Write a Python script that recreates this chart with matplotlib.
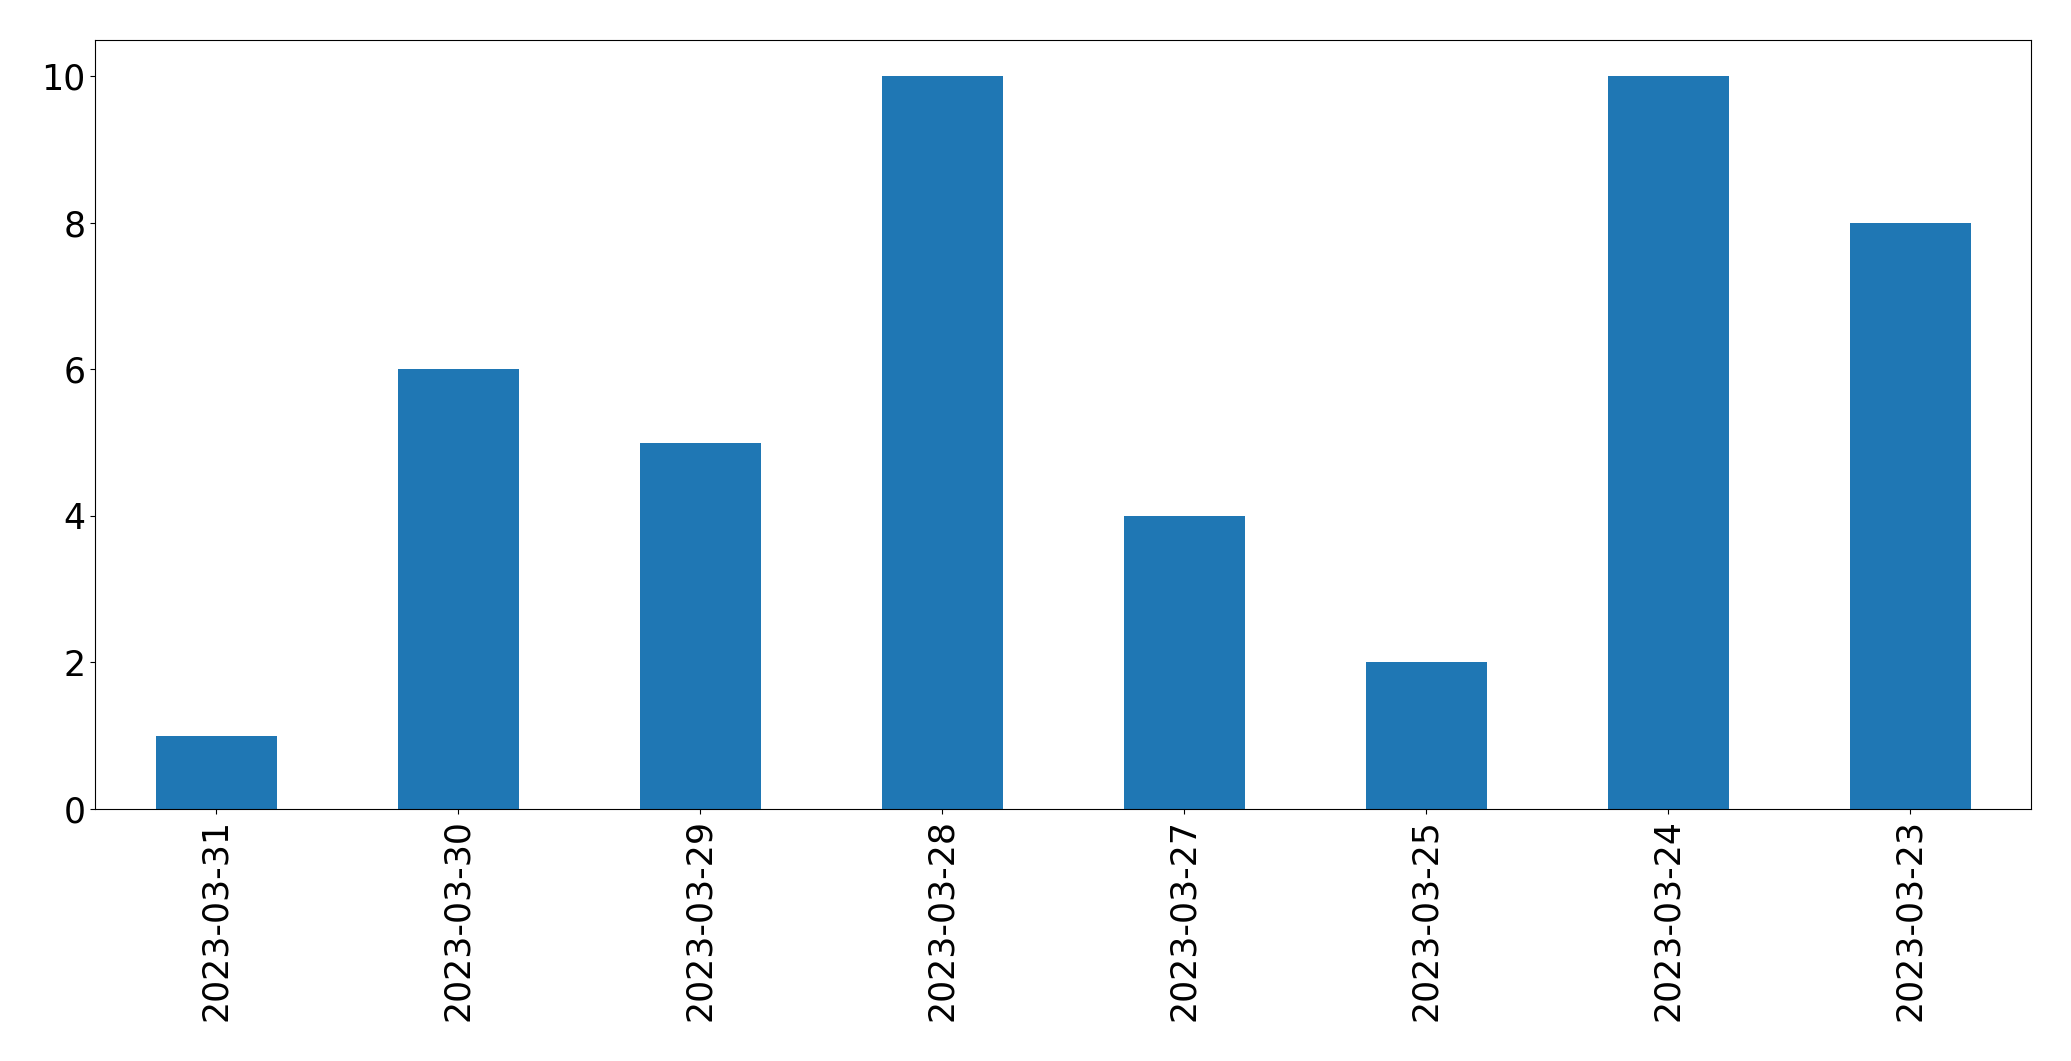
import matplotlib
matplotlib.use("Agg")
import matplotlib.pyplot as plt
import pandas as pd

dates = ["2023-03-31", "2023-03-30", "2023-03-29", "2023-03-28",
         "2023-03-27", "2023-03-25", "2023-03-24", "2023-03-23"]
counts = [1, 6, 5, 10, 4, 2, 10, 8]

s = pd.Series(counts, index=dates)

fig, ax = plt.subplots(figsize=(20.71, 10.61), dpi=100)
s.plot(kind="bar", ax=ax, color="#1f77b4", fontsize=25)
ax.tick_params(axis="both", labelsize=25)
# axes box placed to match the reference
fig.subplots_adjust(left=95/2071, right=2031/2071, top=1 - 39.5/1061, bottom=1 - 809/1061)
fig.savefig("out.png", dpi=100)
